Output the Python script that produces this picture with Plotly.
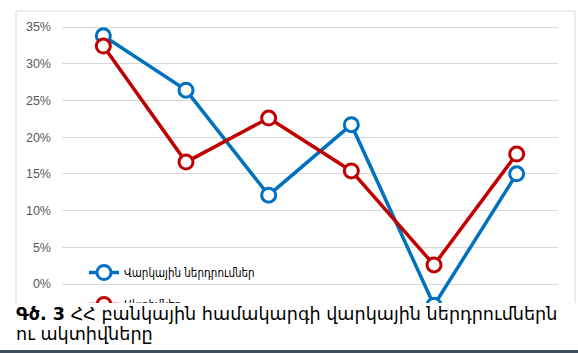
import plotly.graph_objects as go

W, H = 578, 353

categories = ["1", "2", "3", "4", "5", "6"]
loans = [0.338, 0.264, 0.121, 0.217, -0.029, 0.150]
assets = [0.324, 0.166, 0.226, 0.154, 0.026, 0.177]
series_names = ["Վարկային ներդրումներ", "Ակտիվներ"]
y_ticks = [0, 0.05, 0.10, 0.15, 0.20, 0.25, 0.30, 0.35]
caption_bold = "Գծ. 3"
caption_line1 = " ՀՀ բանկային համակարգի վարկային ներդրումներն"
caption_line2 = "ու ակտիվները"

BLUE = "#0070C0"
RED = "#C00000"

def px_x(p):
    return p / W

def px_y(p):
    return 1 - p / H

fig = go.Figure()
for name, vals, col, grp in [(series_names[0], loans, BLUE, "a"), (series_names[1], assets, RED, "b")]:
    fig.add_trace(go.Scatter(
        x=categories, y=vals, name=name, mode="lines+markers", legendgroup=grp,
        line=dict(color=col, width=3.5),
        marker=dict(symbol="circle", size=14, color="white", line=dict(color=col, width=3)),
        cliponaxis=True,
    ))

fig.update_layout(
    width=W, height=H,
    margin=dict(l=0, r=0, t=0, b=0),
    paper_bgcolor="white", plot_bgcolor="white",
    font=dict(family="DejaVu Sans", color="#595959"),
    showlegend=True,
    legend=dict(
        x=px_x(84), y=px_y(258), xanchor="left", yanchor="top",
        bgcolor="rgba(0,0,0,0)",
        font=dict(size=11.5, color="#000000", family="DejaVu Sans Condensed, DejaVu Sans"),
        tracegroupgap=13, itemwidth=30,
    ),
    xaxis=dict(
        domain=[px_x(62), px_x(558)], range=[-0.5, 5.5], type="category",
        showticklabels=False, showgrid=False, zeroline=False, showline=False,
    ),
    yaxis=dict(
        domain=[px_y(303), px_y(11)], range=[-0.02588, 0.3718],
        tickvals=y_ticks, tickformat=".0%", showgrid=True, gridcolor="#d9d9d9", gridwidth=1,
        zeroline=False, showline=False, ticks="", ticklabelstandoff=10,
        tickfont=dict(size=12.5, color="#595959", family="Liberation Sans"),
    ),
    shapes=[
        dict(type="rect", xref="paper", yref="paper", x0=px_x(16), x1=px_x(575),
             y0=px_y(320), y1=px_y(11), line=dict(color="#d9d9d9", width=1), layer="below"),
        dict(type="rect", xref="paper", yref="paper", x0=0, x1=1, y0=0, y1=px_y(350),
             fillcolor="#3f4d5f", line=dict(width=0), layer="above"),
    ],
    annotations=[
        dict(text=" ", xref="paper", yref="paper", x=0, y=px_y(303), xanchor="left", yanchor="top",
             width=W, height=47, bgcolor="white", showarrow=False, borderpad=0, borderwidth=0),
        dict(text="<b>" + caption_bold + "</b>" + caption_line1, xref="paper", yref="paper",
             x=px_x(14), y=px_y(314), xanchor="left", yanchor="middle", showarrow=False,
             font=dict(size=17.6, color="#000000", family="DejaVu Sans")),
        dict(text=caption_line2, xref="paper", yref="paper",
             x=px_x(14), y=px_y(334), xanchor="left", yanchor="middle", showarrow=False,
             font=dict(size=17.6, color="#000000", family="DejaVu Sans")),
    ],
)

fig.write_html("out.html")
